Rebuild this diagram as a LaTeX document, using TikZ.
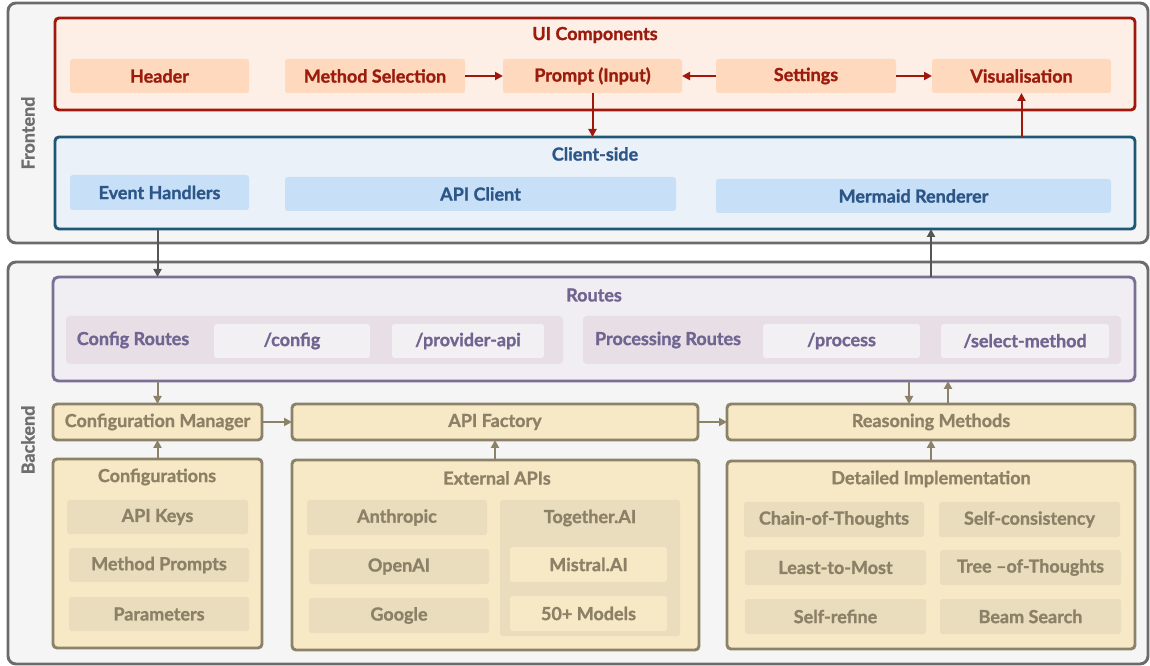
\documentclass[tikz,border=0pt]{standalone}
\usepackage{fontspec}
\setmainfont{Lato}[BoldFeatures={FakeBold=1.2}]
\usetikzlibrary{arrows.meta}
\definecolor{outerS}{HTML}{6B6B6B}
\definecolor{outerF}{HTML}{F5F5F5}
\definecolor{lbl}{HTML}{6E6E6E}
\definecolor{redS}{HTML}{A0180B}
\definecolor{redF}{HTML}{FDEEE6}
\definecolor{redSub}{HTML}{FFD9BE}
\definecolor{redT}{HTML}{9B1B0C}
\definecolor{bluS}{HTML}{1F5775}
\definecolor{bluF}{HTML}{EBF1F9}
\definecolor{bluSub}{HTML}{C7E0F7}
\definecolor{bluT}{HTML}{2C5688}
\definecolor{purS}{HTML}{7A6F95}
\definecolor{purF}{HTML}{F0EEF2}
\definecolor{purG}{HTML}{E7DEE6}
\definecolor{purSub}{HTML}{F3F0F4}
\definecolor{purT}{HTML}{6F6590}
\definecolor{tanS}{HTML}{8C8269}
\definecolor{tanF}{HTML}{F7E9C5}
\definecolor{tanSub}{HTML}{E9DDBD}
\definecolor{tanT}{HTML}{8C8167}
\definecolor{arrG}{HTML}{555555}
\newcommand\mybox[7]{\node[#6, minimum width={(#4-#2)*0.75pt}, minimum height={(#5-#3)*0.75pt}] (#1) at ({(#2+#4)/2},{(#3+#5)/2}) {#7};}
\tikzset{
  every node/.style={inner sep=0pt, outer sep=0pt, font=\fontsize{13.5}{15}\selectfont\bfseries},
  outerbox/.style={draw=outerS, fill=outerF, line width=2.2pt, rounded corners=6pt},
  sidelbl/.style={text=lbl, rotate=90},
  redbox/.style={draw=redS, fill=redF, line width=2.2pt, rounded corners=3pt},
  redsub/.style={fill=redSub, rounded corners=2pt, text=redT},
  redtitle/.style={text=redT},
  blubox/.style={draw=bluS, fill=bluF, line width=2.2pt, rounded corners=3pt},
  blusub/.style={fill=bluSub, rounded corners=2pt, text=bluT},
  blutitle/.style={text=bluT},
  purbox/.style={draw=purS, fill=purF, line width=2.2pt, rounded corners=4pt},
  purgrp/.style={fill=purG, rounded corners=3pt},
  pursub/.style={fill=purSub, rounded corners=2pt, text=purT},
  purtitle/.style={text=purT},
  tanbox/.style={draw=tanS, fill=tanF, line width=2.2pt, rounded corners=3pt, text=tanT},
  tansub/.style={fill=tanSub, rounded corners=2pt, text=tanT},
  tanin/.style={fill=tanF, rounded corners=2pt, text=tanT},
  tantitle/.style={text=tanT},
  redarr/.style={draw=redS, line width=1.5pt, -{Triangle[length=6pt,width=6pt]}},
  grayarr/.style={draw=arrG, line width=1.5pt, -{Triangle[length=6pt,width=6pt]}},
  tanarr/.style={draw=tanS, line width=1.5pt, -{Triangle[length=6pt,width=6pt]}},
}
\begin{document}
\begin{tikzpicture}[x=0.75pt,y=-0.75pt]
\useasboundingbox (0,0) rectangle (1150,666);
% Frontend
\mybox{front}{8}{3}{1148}{243}{outerbox}{}
\node[sidelbl] (frontlbl) at (28,133) {Frontend};
\mybox{ui}{55}{18}{1135}{110}{redbox}{}
\node[redtitle] (uititle) at (595,35) {UI Components};
\mybox{header}{70}{59}{249}{93}{redsub}{Header}
\mybox{msel}{285}{59}{465}{93}{redsub}{Method Selection}
\mybox{prompt}{503}{59}{682}{93}{redsub}{Prompt (Input)}
\mybox{settings}{716}{59}{896}{93}{redsub}{Settings}
\mybox{vis}{932}{59}{1111}{93}{redsub}{Visualisation}
\mybox{client}{55}{137}{1135}{229}{blubox}{}
\node[blutitle] (cltitle) at (595,154) {Client-side};
\mybox{eh}{70}{175}{249}{210}{blusub}{Event Handlers}
\mybox{apic}{285}{177}{676}{211}{blusub}{API Client}
\mybox{mr}{716}{179}{1111}{213}{blusub}{Mermaid Renderer}
% Backend
\mybox{back}{8}{262}{1148}{664}{outerbox}{}
\node[sidelbl] (backlbl) at (28,440) {Backend};
\mybox{routes}{53}{277}{1135}{381}{purbox}{}
\node[purtitle] (rtitle) at (594,295) {Routes};
\mybox{cfgr}{66}{316}{563}{364}{purgrp}{}
\node[purtitle] (cfgrl) at (133,340) {Config Routes};
\mybox{rconfig}{214}{324}{370}{358}{pursub}{/config}
\mybox{rprov}{392}{324}{544}{358}{pursub}{/provider-api}
\mybox{procr}{583}{316}{1121}{364}{purgrp}{}
\node[purtitle] (procrl) at (668,340) {Processing Routes};
\mybox{rproc}{763}{324}{920}{358}{pursub}{/process}
\mybox{rsel}{941}{324}{1109}{358}{pursub}{/select-method}
\mybox{cm}{53}{404}{262}{440}{tanbox}{Configuration Manager}
\mybox{af}{292}{404}{698}{440}{tanbox}{API Factory}
\mybox{rm}{727}{404}{1135}{440}{tanbox}{Reasoning Methods}
\mybox{conf}{53}{459}{262}{648}{tanbox}{}
\node[tantitle] (conft) at (157,477) {Configurations};
\mybox{keys}{67}{500}{248}{534}{tansub}{API Keys}
\mybox{mprom}{69}{548}{249}{582}{tansub}{Method Prompts}
\mybox{params}{69}{597}{249}{631}{tansub}{Parameters}
\mybox{ext}{292}{460}{699}{650}{tanbox}{}
\node[tantitle] (extt) at (497,478) {External APIs};
\mybox{anth}{307}{500}{487}{535}{tansub}{Anthropic}
\mybox{oai}{309}{549}{489}{584}{tansub}{OpenAI}
\mybox{goog}{309}{598}{489}{633}{tansub}{Google}
\mybox{tog}{500}{500}{680}{636}{tansub}{}
\node[tantitle] (togt) at (590,518) {Together.AI};
\mybox{mist}{510}{547}{667}{582}{tanin}{Mistral.AI}
\mybox{fifty}{510}{596}{667}{631}{tanin}{50+ Models}
\mybox{di}{727}{461}{1135}{649}{tanbox}{}
\node[tantitle] (dit) at (931,479) {Detailed Implementation};
\mybox{cot}{744}{502}{924}{537}{tansub}{Chain-of-Thoughts}
\mybox{sc}{939}{502}{1120}{537}{tansub}{Self-consistency}
\mybox{ltm}{745}{550}{926}{585}{tansub}{Least-to-Most}
\mybox{tot}{940}{550}{1121}{585}{tansub}{Tree –of-Thoughts}
\mybox{sr}{745}{599}{926}{634}{tansub}{Self-refine}
\mybox{bs}{940}{599}{1121}{634}{tansub}{Beam Search}
% arrows frontend
\draw[redarr] (msel.east) -- (prompt.west);
\draw[redarr] (settings.west) -- (prompt.east);
\draw[redarr] (settings.east) -- (vis.west);
\draw[redarr] (prompt.south) -- (prompt.south |- client.north);
\draw[redarr] (vis.south |- client.north) -- (vis.south);
% frontend-backend
\draw[grayarr] (client.south -| cm.north) -- (routes.north -| cm.north);
\draw[grayarr] (routes.north -| rm.north) -- (client.south -| rm.north);
% backend arrows
\draw[tanarr] (routes.south -| cm.north) -- (cm.north);
\draw[tanarr] ([xshift=-16.5pt]routes.south -| rm.north) -- ([xshift=-16.5pt]rm.north);
\draw[tanarr] ([xshift=12.75pt]rm.north) -- ([xshift=12.75pt]routes.south -| rm.north);
\draw[tanarr] (cm.east) -- (af.west);
\draw[tanarr] (af.east) -- (rm.west);
\draw[tanarr] (conf.north) -- (cm.south);
\draw[tanarr] (ext.north -| af.south) -- (af.south);
\draw[tanarr] (di.north) -- (rm.south);
\end{tikzpicture}
\end{document}
